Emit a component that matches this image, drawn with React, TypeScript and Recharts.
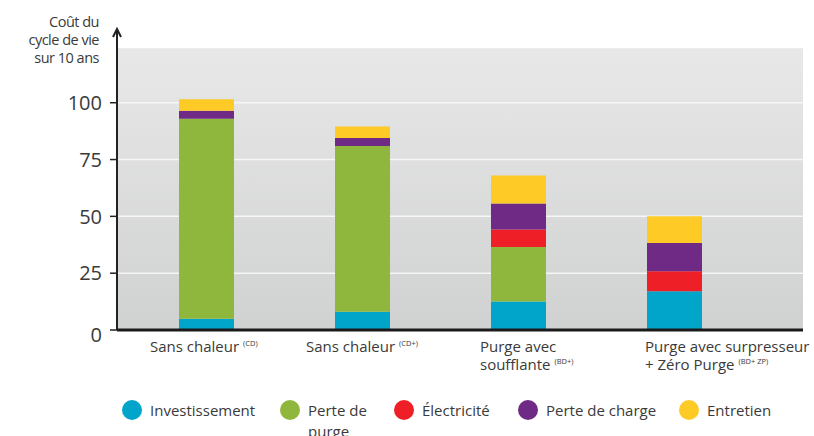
import React from "react"
import {
    BarChart,
    Bar,
    XAxis,
    YAxis,
    ReferenceArea,
    ReferenceLine,
} from "recharts"

const categories = [
    "Sans chaleur",
    "Sans chaleur",
    "Purge avec\nsoufflante",
    "Purge avec surpresseur\n+ Zéro Purge",
]
const superscripts = ["(CD)", "(CD+)", "(BD+)", "(BD+ ZP)"]

const investissement = [5, 8, 12.5, 17]
const pertePurge = [88, 73, 24, 0]
const electricite = [0, 0, 7.7, 8.8]
const perteCharge = [3.5, 3.5, 11.5, 12.5]
const entretien = [5, 5, 12.3, 11.8]

const yTicks = [0, 25, 50, 75, 100]
const gridValues = [25, 50, 75, 100]

const SERIES = [
    { key: "inv", name: "Investissement", color: "#00a5c9", values: investissement },
    { key: "purge", name: "Perte de purge", color: "#8fb73e", values: pertePurge },
    { key: "elec", name: "Électricité", color: "#ee1f26", values: electricite },
    { key: "charge", name: "Perte de charge", color: "#6e2a84", values: perteCharge },
    { key: "entretien", name: "Entretien", color: "#fdca26", values: entretien },
]

const data = categories.map((cat, i) => {
    const row: any = { name: cat }
    SERIES.forEach((s) => (row[s.key] = s.values[i]))
    return row
})

const FONT = "'Open Sans', 'Noto Sans', sans-serif"
const TEXT = "#3a3a3a"
const PAD_LEFT = 11
const PAD_RIGHT = 51
// left edge of each category label, relative to its band centre
const LABEL_DX = [-56, -56, -38, -29]
const LEGEND_X = [122, 280, 394, 518, 679]

const CategoryTick = ({ x, y, payload, index }: any) => {
    const lines = String(payload.value).split("\n")
    const sup = superscripts[index]
    const lx = x + LABEL_DX[index]
    return (
        <text x={lx} y={y + 14} fill={TEXT} fontSize={15} fontFamily={FONT}>
            {lines.map((ln, i) => (
                <tspan key={i} x={lx} dy={i === 0 ? 0 : 18}>
                    {ln}
                </tspan>
            ))}
            <tspan fontSize={7.5} dy={-6} dx={4}>
                {sup}
            </tspan>
        </text>
    )
}

const ValueTick = ({ x, y, payload }: any) => (
    <text
        x={x}
        y={y + (payload.value === 0 ? 5 : 0)}
        dy="0.36em"
        textAnchor="end"
        fill={TEXT}
        fontSize={20}
        fontFamily={FONT}
    >
        {payload.value}
    </text>
)

const AxisTitle = ({ viewBox }: any) => {
    const ax = viewBox.x + viewBox.width
    const top = viewBox.y
    return (
        <g>
            <path d={`M${ax - 4},${top + 7} L${ax},${top - 1} L${ax + 4},${top + 7}`} fill="none" stroke="#222" strokeWidth={2} />
            <text textAnchor="end" fill={TEXT} fontSize={14.5} fontFamily={FONT} letterSpacing={-0.5}>
                <tspan x={99} y={27}>Coût du</tspan>
                <tspan x={99} y={45}>cycle de vie</tspan>
                <tspan x={99} y={63}>sur 10 ans</tspan>
            </text>
        </g>
    )
}

const Background = ({ x, y, width, height }: any) => (
    <g>
        <defs>
            <linearGradient id="plotBg" x1="0" y1="0" x2="0" y2="1">
                <stop offset="0%" stopColor="#e8e8e8" />
                <stop offset="100%" stopColor="#d0d1d1" />
            </linearGradient>
        </defs>
        <rect
            x={x - PAD_LEFT}
            y={y}
            width={width + PAD_LEFT + PAD_RIGHT}
            height={height}
            fill="url(#plotBg)"
        />
    </g>
)

export default function App() {
    return (
        <div style={{ position: "absolute", left: 0, top: 0, width: 814, height: 436, background: "#fff", overflow: "hidden" }}>
            <BarChart
                width={814}
                height={436}
                data={data}
                margin={{ top: 30, right: 11, bottom: 76, left: 0 }}
                barSize={55}
            >
                <ReferenceArea y1={0} y2={124} shape={Background} ifOverflow="visible" zIndex={-200} />
                {gridValues.map((v) => (
                    <ReferenceLine key={v} y={v} stroke="#f6f6f6" strokeWidth={1.5} zIndex={-150} />
                ))}
                <XAxis
                    dataKey="name"
                    height={30}
                    padding={{ left: PAD_LEFT, right: PAD_RIGHT }}
                    axisLine={{ stroke: "#1a1a1a", strokeWidth: 3 }}
                    tickLine={false}
                    tick={<CategoryTick />}
                    interval={0}
                />
                <YAxis
                    width={117}
                    domain={[0, 132]}
                    ticks={yTicks}
                    allowDataOverflow
                    axisLine={{ stroke: "#222", strokeWidth: 2 }}
                    tickLine={{ stroke: "#222", strokeWidth: 1.5 }}
                    tickSize={7}
                    tickMargin={8}
                    tick={<ValueTick />}
                    label={{ content: AxisTitle }}
                />
                {SERIES.map((s) => (
                    <Bar
                        key={s.key}
                        dataKey={s.key}
                        name={s.name}
                        stackId="a"
                        fill={s.color}
                        isAnimationActive={false}
                    />
                ))}
            </BarChart>
            {SERIES.map((s, i) => (
                <div
                    key={s.key}
                    style={{
                        position: "absolute",
                        left: LEGEND_X[i],
                        top: 400,
                        display: "flex",
                        alignItems: "flex-start",
                        fontFamily: FONT,
                        fontSize: 15,
                        color: TEXT,
                        lineHeight: "21px",
                    }}
                >
                    <span
                        style={{
                            width: 20,
                            height: 20,
                            borderRadius: "50%",
                            background: s.color,
                            marginTop: 0,
                            marginRight: 8,
                            flex: "none",
                        }}
                    />
                    <span style={{ maxWidth: s.key === "purge" ? 66 : undefined, whiteSpace: s.key === "purge" ? "normal" : "nowrap" }}>
                        {s.name}
                    </span>
                </div>
            ))}
        </div>
    )
}
